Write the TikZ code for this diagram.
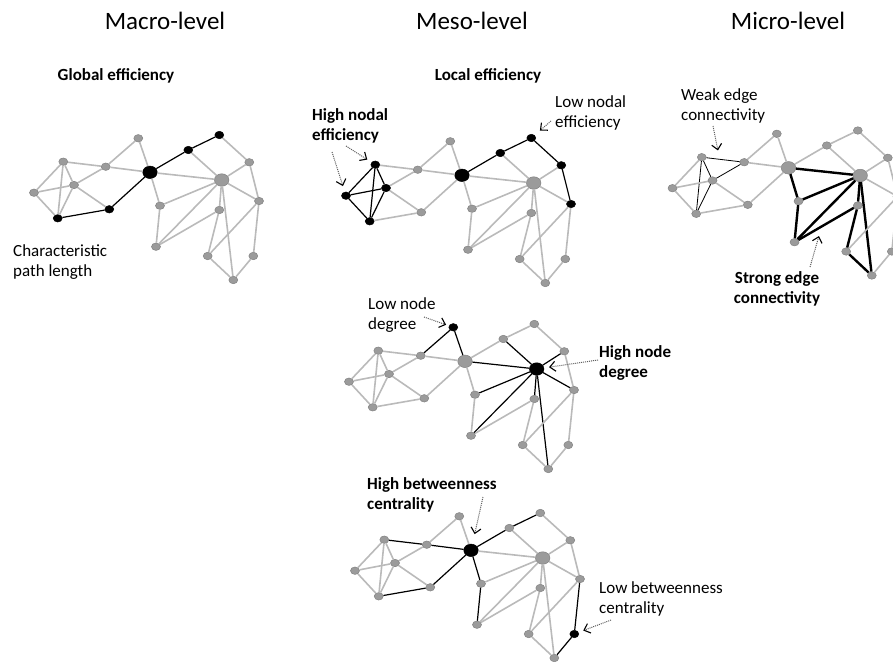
\documentclass[tikz,border=0pt]{standalone}
\usepackage{fontspec}
\setmainfont{Carlito}
\usetikzlibrary{arrows.meta, shapes.geometric}
\definecolor{nodegray}{HTML}{9B9B9B}
\definecolor{rimgray}{HTML}{828282}
\definecolor{edgegray}{HTML}{BABABA}
\definecolor{dotgray}{HTML}{5E5E5E}

\tikzset{
    vertex/.style={ellipse, fill=nodegray, draw=rimgray, line width=0.5pt, inner sep=0pt},
    minor/.style={minimum width=9pt, minimum height=7.5pt},
    hub/.style={minimum width=14.5pt, minimum height=12.5pt},
    filled/.style={fill=black, draw=black},
    link/.style={draw=edgegray, line width=1.6pt},
    blacklink/.style={draw=black, line width=1.2pt},
    stronglink/.style={draw=black, line width=2.4pt},
    weaklink/.style={draw=black, line width=0.8pt},
    leveltitle/.style={font=\fontsize{25}{30}\selectfont, inner sep=0pt, anchor=base},
    note/.style={font=\fontsize{17}{20}\selectfont, inner sep=0pt, align=left, anchor=base west},
    boldnote/.style={note, font=\fontsize{17}{20}\selectfont\bfseries},
    pointer/.style={dotgray, densely dotted, line width=1pt, shorten >=#1,
        -{Straight Barb[length=5.5pt, width=10pt, black, line width=1.1pt]}},
    pointer/.default=5pt,
    % highlighted parts: a global, b local, c edges, d degree, e betweenness
    aE/.style=filled, aF/.style=filled, aH/.style=filled, aI/.style=filled, aJ/.style=filled,
    aEF/.style=blacklink, aFH/.style=blacklink, aHI/.style=blacklink, aIJ/.style=blacklink,
    bA/.style=filled, bB/.style=filled, bC/.style=filled, bE/.style=filled, bH/.style=filled,
    bI/.style=filled, bJ/.style=filled, bK/.style=filled, bO/.style=filled,
    bAB/.style=blacklink, bAC/.style=blacklink, bAE/.style=blacklink, bBC/.style=blacklink,
    bBE/.style=blacklink, bCE/.style=blacklink, bHI/.style=blacklink, bIJ/.style=blacklink,
    bJK/.style=blacklink, bKO/.style=blacklink,
    cAC/.style=weaklink, cAD/.style=weaklink, cAE/.style=weaklink, cCD/.style=weaklink, cCE/.style=weaklink,
    cHL/.style=stronglink, cHM/.style=stronglink, cLM/.style=stronglink, cLN/.style=stronglink,
    cLP/.style=stronglink, cLS/.style=stronglink, cMP/.style=stronglink, cNP/.style=stronglink,
    cNQ/.style=stronglink, cQS/.style=stronglink,
    dG/.style=filled, dL/.style=filled,
    dDG/.style=blacklink, dGH/.style=blacklink, dHL/.style=blacklink, dIL/.style=blacklink,
    dKL/.style=blacklink, dLM/.style=blacklink, dLN/.style=blacklink, dLO/.style=blacklink,
    dLP/.style=blacklink, dLS/.style=blacklink,
    eH/.style=filled, eR/.style=filled,
    eAD/.style=blacklink, eDH/.style=blacklink, eEF/.style=blacklink, eFH/.style=blacklink,
    eHI/.style=blacklink, eHM/.style=blacklink, eIJ/.style=blacklink, eMP/.style=blacklink,
    eOR/.style=blacklink, eRS/.style=blacklink,
}

\begin{document}
\begin{tikzpicture}[x=1pt, y=-1pt]
    \useasboundingbox (0, 0) rectangle (893, 661);
    \clip (0, 0) rectangle (893, 661);

    % five copies of the same network
    \foreach \p/\dx/\dy in {a/0/0, b/312/3, c/638.5/-4.5, d/315/189, e/321/378} {%
            \foreach \n/\x/\y/\s in {A/63.3/161.7/minor, B/34/192.7/minor, C/74/185/minor,
                    D/105.7/166.7/minor, E/57.7/218.3/minor, F/109.3/209.3/minor, G/138.3/138.3/minor,
                    H/150/172.3/hub, I/188.3/150/minor, J/219.3/135/minor, K/249.3/162.3/minor,
                    L/221.7/180/hub, M/160/205.7/minor, N/219.3/210/minor, O/259/201/minor,
                    P/156/246.7/minor, Q/207.7/256/minor, R/253.3/256/minor, S/233.3/280/minor} {%
                    \node [vertex, \s, \p\n/.try] (\p\n) at (\x+\dx, \y+\dy) {};
                }
            \foreach \u/\v in {A/B, A/C, A/D, A/E, B/C, B/E, C/D, C/E, C/F, D/G, D/H, E/F, F/H, G/H,
                    H/I, H/L, H/M, I/J, I/L, J/K, K/L, K/O, L/M, L/N, L/O, L/P, L/S, M/P, N/P, N/Q,
                    O/Q, O/R, Q/S, R/S} {%
                    \draw [link, \p\u\v/.try] (\p\u) -- (\p\v);
                }
        }

    % titles
    \node [leveltitle] (macro) at (165, 30) {Macro-level};
    \node [leveltitle] (meso) at (472, 30) {Meso-level};
    \node [leveltitle] (micro) at (788, 30) {Micro-level};

    % macro (two-line notes sit on their last baseline)
    \node [boldnote, anchor=base] (global) at (116, 81) {Global efficiency};
    \node [note] (pathlength) at (13, 276) {Characteristic\\path length};

    % local efficiency
    \node [boldnote, anchor=base] (local) at (488, 81) {Local efficiency};
    \node [boldnote] (highnodal) at (312, 140) {High nodal\\efficiency};
    \node [note] (lownodal) at (555, 127) {Low nodal\\efficiency};
    \coordinate (highnodalA) at (332, 152);
    \coordinate (highnodalB) at (346, 146);
    \coordinate (lownodalA) at (551, 121);
    \draw [pointer=6pt] (highnodalA) -- (bB);
    \draw [pointer] (highnodalB) -- (bA);
    \draw [pointer=7pt] (lownodalA) -- (bJ);

    % edges
    \node [note] (weak) at (681, 120) {Weak edge\\connectivity};
    \node [boldnote, align=center, anchor=base] (strong) at (777, 303) {Strong edge\\connectivity};
    \path (cA) -- (cD) coordinate [pos=0.4] (weakspot);
    \path (cP) -- (cN) coordinate [pos=0.42] (strongspot);
    \coordinate (weakA) at (713, 126);
    \coordinate (strongA) at (810, 267);
    \draw [pointer=9pt] (weakA) -- (weakspot);
    \draw [pointer=10pt] (strongA) -- (strongspot);

    % node degree
    \node [note] (lowdeg) at (368, 329) {Low node\\degree};
    \node [boldnote] (highdeg) at (599, 377) {High node\\degree};
    \coordinate (lowdegA) at (424, 317);
    \coordinate (highdegA) at (598, 360);
    \draw [pointer=3pt] (lowdegA) -- (dG);
    \draw [pointer] (highdegA) -- (dL);

    % betweenness
    \node [boldnote] (highbtw) at (367, 509) {High betweenness\\centrality};
    \node [note] (lowbtw) at (599, 613) {Low betweenness\\centrality};
    \coordinate (highbtwA) at (483, 497);
    \coordinate (lowbtwA) at (611, 620);
    \draw [pointer=10pt] (highbtwA) -- (eH);
    \draw [pointer] (lowbtwA) -- (eR);

\end{tikzpicture}
\end{document}
